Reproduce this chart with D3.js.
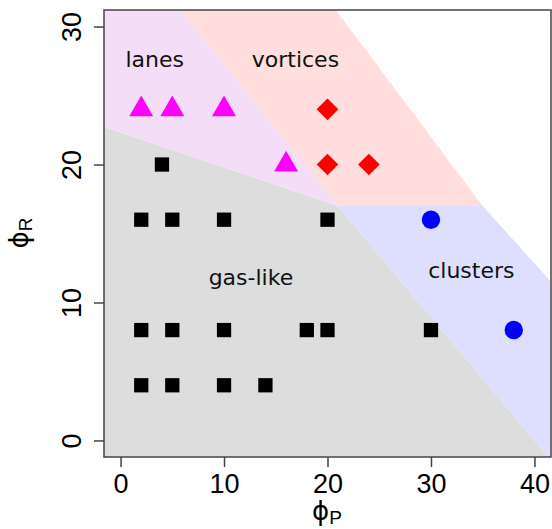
<!DOCTYPE html>
<html>
<head>
<meta charset="utf-8">
<script src="https://cdn.jsdelivr.net/npm/d3@7"></script>
<style>
  html, body { margin: 0; padding: 0; background: #fff; }
  text { font-family: "Liberation Sans", Arial, sans-serif; }
</style>
</head>
<body>
<script>
// phase diagram: phi_P (x) vs phi_R (y)
const xTicks = [0, 10, 20, 30, 40]
const yTicks = [0, 10, 20, 30]

// region boundaries (data units, clipped to the plot box)
const gasRegion = [[-3, 23.1], [21, 17], [43.35, -3], [-3, -3]]
const lanesRegion = [[-3, 23.1], [21, 17], [3.85, 33], [-3, 33]]
const vortexRegion = [[3.85, 33], [21, 17], [35, 17], [19, 33]]
const clusterRegion = [[21, 17], [35, 17], [44, 9.5], [44, -3], [43.35, -3]]

// simulation points per phase
const gasX = [4, 2, 5, 10, 20, 2, 5, 10, 18, 20, 30, 2, 5, 10, 14]
const gasY = [20, 16, 16, 16, 16, 8, 8, 8, 8, 8, 8, 4, 4, 4, 4]
const lanesX = [2, 5, 10, 16]
const lanesY = [24, 24, 24, 20]
const vortexX = [20, 20, 24]
const vortexY = [24, 20, 20]
const clusterX = [30, 38]
const clusterY = [16, 8]

const regionNames = ['lanes', 'vortices', 'gas-like', 'clusters']
const regionLabelX = [3.3, 16.9, 12.6, 33.9]
const regionLabelY = [27.5, 27.5, 11.7, 12.2]

const width = 552
const height = 529
const pLeft = 104, pRight = 551, pTop = 10, pBottom = 457

const x = d3.scaleLinear().domain([-1.6, 41.6]).range([pLeft, pRight])
const y = d3.scaleLinear().domain([-1.2, 31.2]).range([pBottom, pTop])

const svg = d3.select('body').append('svg')
    .attr('width', width)
    .attr('height', height)

svg.append('clipPath').attr('id', 'plotclip')
    .append('rect')
    .attr('x', pLeft).attr('y', pTop)
    .attr('width', pRight - pLeft).attr('height', pBottom - pTop)

const regions = svg.append('g').attr('clip-path', 'url(#plotclip)')
const line = d3.line().x(d => x(d[0])).y(d => y(d[1]))

const regionData = [
    { pts: gasRegion, fill: '#dddddd' },
    { pts: lanesRegion, fill: '#f4ddf6' },
    { pts: vortexRegion, fill: '#ffdedd' },
    { pts: clusterRegion, fill: '#dedeff' }
]
regions.selectAll('path')
    .data(regionData)
    .enter()
    .append('path')
    .attr('d', d => line(d.pts) + 'Z')
    .attr('fill', d => d.fill)

// labels
svg.append('g').selectAll('text')
    .data(regionNames)
    .enter()
    .append('text')
    .attr('x', (d, i) => x(regionLabelX[i]))
    .attr('y', (d, i) => y(regionLabelY[i]) + 6)
    .attr('text-anchor', 'middle')
    .style('font-family', '"DejaVu Sans", sans-serif')
    .style('font-size', '22px')
    .attr('fill', '#111')
    .text(d => d)

const zip = (xs, ys) => xs.map((v, i) => [v, ys[i]])

const marks = svg.append('g')
marks.selectAll('.gas')
    .data(zip(gasX, gasY))
    .enter()
    .append('path')
    .attr('d', d3.symbol(d3.symbolSquare, 204))
    .attr('transform', d => `translate(${x(d[0])},${y(d[1])})`)
    .attr('fill', '#000')

marks.selectAll('.lanes')
    .data(zip(lanesX, lanesY))
    .enter()
    .append('path')
    .attr('d', d3.symbol(d3.symbolTriangle, 250))
    .attr('transform', d => `translate(${x(d[0])},${y(d[1])})`)
    .attr('fill', '#ff00ff')

marks.selectAll('.vortex')
    .data(zip(vortexX, vortexY))
    .enter()
    .append('path')
    .attr('d', d3.symbol(d3.symbolSquare, 235))
    .attr('transform', d => `translate(${x(d[0])},${y(d[1])}) rotate(45)`)
    .attr('fill', '#ff0000')

marks.selectAll('.cluster')
    .data(zip(clusterX, clusterY))
    .enter()
    .append('circle')
    .attr('cx', d => x(d[0]))
    .attr('cy', d => y(d[1]))
    .attr('r', 9.2)
    .attr('fill', '#0000ff')

// box
svg.append('rect')
    .attr('x', pLeft).attr('y', pTop)
    .attr('width', pRight - pLeft).attr('height', pBottom - pTop)
    .attr('fill', 'none')
    .attr('stroke', '#444')
    .attr('stroke-width', 1.5)

// axes
const xAxis = svg.append('g')
    .attr('transform', `translate(0,${pBottom})`)
    .call(d3.axisBottom(x).tickValues(xTicks).tickSize(10).tickPadding(6))
const yAxis = svg.append('g')
    .attr('transform', `translate(${pLeft},0)`)
    .call(d3.axisLeft(y).tickValues(yTicks).tickSize(10))

xAxis.select('.domain').remove()
yAxis.select('.domain').remove()
svg.selectAll('.tick line').attr('stroke', '#444').attr('stroke-width', 1.5)

xAxis.selectAll('.tick text')
    .attr('y', 36)
    .attr('dy', null)
    .style('font-size', '27px')
    .attr('fill', '#000')
yAxis.selectAll('.tick text')
    .attr('x', null)
    .attr('dy', null)
    .attr('text-anchor', 'middle')
    .attr('transform', 'translate(-23,0) rotate(-90)')
    .style('font-size', '27px')
    .attr('fill', '#000')

// axis titles (stroked phi as in the reference)
const xt = svg.append('text')
    .attr('x', 327).attr('y', 520)
    .attr('text-anchor', 'middle')
    .style('font-size', '26px')
xt.append('tspan').style('font-family', '"DejaVu Sans", sans-serif').text('ϕ')
xt.append('tspan').attr('dy', 4).style('font-size', '19px').text('P')

const yt = svg.append('text')
    .attr('transform', 'translate(28,233) rotate(-90)')
    .attr('text-anchor', 'middle')
    .style('font-size', '26px')
yt.append('tspan').style('font-family', '"DejaVu Sans", sans-serif').text('ϕ')
yt.append('tspan').attr('dy', 4).style('font-size', '19px').text('R')
</script>
</body>
</html>
